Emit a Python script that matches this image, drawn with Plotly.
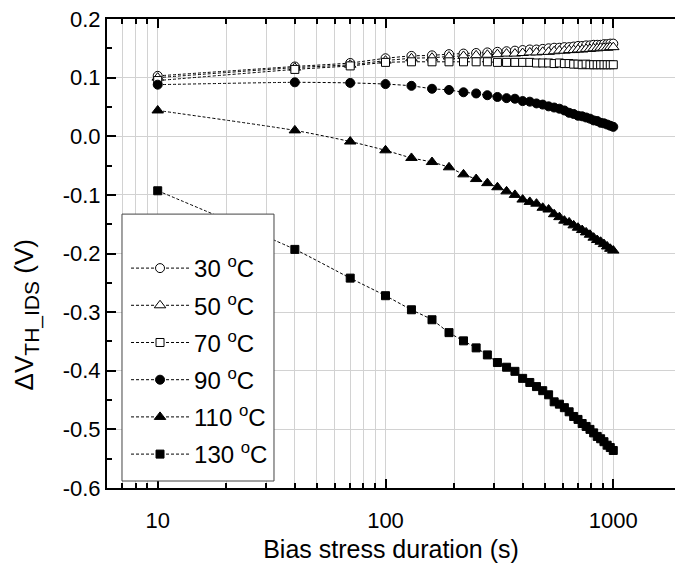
import plotly.graph_objects as go

# Bias stress time (s)
times = [10, 40, 70, 100, 130, 160, 190, 220, 250, 280, 310, 340, 370, 400, 430, 460, 490,
         520, 550, 580, 610, 640, 670, 700, 730, 760, 790, 820, 850, 880, 910, 940, 970, 1000]

# Threshold voltage shift (V) at each stress temperature
dv_30 = [0.103, 0.119, 0.125, 0.133, 0.137, 0.138, 0.140, 0.141, 0.142, 0.143, 0.144, 0.145,
         0.146, 0.147, 0.148, 0.148, 0.149, 0.150, 0.151, 0.151, 0.152, 0.152, 0.153, 0.154,
         0.154, 0.155, 0.155, 0.156, 0.156, 0.156, 0.157, 0.157, 0.158, 0.158]
dv_50 = [0.100, 0.117, 0.122, 0.129, 0.133, 0.134, 0.136, 0.137, 0.138, 0.139, 0.140, 0.141,
         0.141, 0.142, 0.143, 0.143, 0.144, 0.144, 0.145, 0.146, 0.146, 0.147, 0.147, 0.148,
         0.148, 0.149, 0.149, 0.150, 0.150, 0.151, 0.151, 0.151, 0.152, 0.152]
dv_70 = [0.095, 0.114, 0.120, 0.126, 0.127, 0.127, 0.127, 0.127, 0.127, 0.127, 0.126, 0.126,
         0.126, 0.126, 0.126, 0.125, 0.125, 0.125, 0.124, 0.125, 0.124, 0.124, 0.123, 0.123,
         0.122, 0.123, 0.122, 0.122, 0.122, 0.122, 0.122, 0.122, 0.122, 0.122]
dv_90 = [0.088, 0.092, 0.091, 0.089, 0.086, 0.081, 0.079, 0.075, 0.073, 0.070, 0.067, 0.065,
         0.064, 0.060, 0.059, 0.056, 0.054, 0.051, 0.049, 0.047, 0.044, 0.040, 0.038, 0.035,
         0.034, 0.032, 0.030, 0.027, 0.026, 0.023, 0.022, 0.020, 0.018, 0.016]
dv_110 = [0.044, 0.010, -0.009, -0.024, -0.037, -0.044, -0.053, -0.065, -0.073, -0.080, -0.087,
          -0.094, -0.100, -0.108, -0.112, -0.115, -0.122, -0.125, -0.133, -0.138, -0.144, -0.147,
          -0.152, -0.156, -0.160, -0.164, -0.168, -0.173, -0.177, -0.180, -0.184, -0.188, -0.192,
          -0.195]
dv_130 = [-0.093, -0.193, -0.242, -0.272, -0.296, -0.313, -0.335, -0.349, -0.361, -0.373, -0.386,
          -0.394, -0.401, -0.413, -0.420, -0.427, -0.434, -0.441, -0.453, -0.457, -0.463, -0.470,
          -0.478, -0.483, -0.490, -0.495, -0.500, -0.506, -0.512, -0.516, -0.521, -0.527, -0.531,
          -0.536]

series_names = ["30 <sup>o</sup>C", "50 <sup>o</sup>C", "70 <sup>o</sup>C",
                "90 <sup>o</sup>C", "110 <sup>o</sup>C", "130 <sup>o</sup>C"]

# Axis ticks
x_major = [10, 100, 1000]
x_major_text = ["10", "100", "1000"]
x_minor = [6, 7, 8, 9, 20, 30, 40, 50, 60, 70, 80, 90, 200, 300, 400, 500, 600, 700, 800, 900]
y_major = [-0.6, -0.5, -0.4, -0.3, -0.2, -0.1, 0.0, 0.1, 0.2]
y_major_text = ["-0.6", "-0.5", "-0.4", "-0.3", "-0.2", "-0.1", "0.0", "0.1", "0.2"]
y_minor = [-0.55, -0.45, -0.35, -0.25, -0.15, -0.05, 0.05, 0.15]

FONT = "Arial, Liberation Sans, sans-serif"
GRID = "#d2d2d2"

styles = [
    dict(symbol="circle", size=9, color="white"),
    dict(symbol="triangle-up", size=10, color="white"),
    dict(symbol="square", size=8, color="white"),
    dict(symbol="circle", size=9, color="black"),
    dict(symbol="triangle-up", size=10, color="black"),
    dict(symbol="square", size=8, color="black"),
]

fig = go.Figure()
for i, (name, vals, st) in enumerate(zip(series_names,
                                         [dv_30, dv_50, dv_70, dv_90, dv_110, dv_130], styles)):
    fig.add_trace(go.Scatter(
        x=times, y=vals, name=name, mode="lines+markers", legendgroup=f"g{i}",
        line=dict(color="black", width=1, dash="3px,2px", shape="spline", smoothing=0.6),
        marker=dict(symbol=st["symbol"], size=st["size"], color=st["color"],
                    line=dict(color="black", width=1)),
    ))

fig.update_layout(
    width=675, height=571,
    margin=dict(l=107, r=0, t=19, b=83),
    paper_bgcolor="white", plot_bgcolor="white",
    font=dict(family=FONT, size=22, color="black"),
    showlegend=True,
    legend=dict(
        x=0.0335, y=0.516, xanchor="left", yanchor="top",
        bgcolor="rgba(0,0,0,0)", borderwidth=0,
        font=dict(family=FONT, size=24, color="black"),
        itemwidth=58, tracegroupgap=3,
    ),
    # legend frame
    shapes=[dict(
        type="rect", xref="paper", yref="paper", layer="above",
        x0=0.0264, x1=0.294, y0=0.0149, y1=0.584,
        fillcolor="white", line=dict(color="#444444", width=1),
    )],
    xaxis=dict(
        type="log", range=[0.7774, 3.2709],
        tickmode="array", tickvals=x_major, ticktext=x_major_text,
        ticks="inside", ticklen=9, tickwidth=2, tickcolor="black",
        showline=True, linecolor="black", linewidth=2, mirror="ticks",
        showgrid=True, gridcolor=GRID, gridwidth=1,
        zeroline=False, ticklabelstandoff=12,
        minor=dict(tickmode="array", tickvals=x_minor, ticks="inside", ticklen=5,
                   tickwidth=1.5, tickcolor="black", showgrid=True, gridcolor=GRID, gridwidth=1),
        title=dict(text="Bias stress duration (s)", font=dict(size=25), standoff=8),
        tickfont=dict(size=22),
    ),
    yaxis=dict(
        range=[-0.6, 0.2],
        tickmode="array", tickvals=y_major, ticktext=y_major_text,
        ticks="inside", ticklen=9, tickwidth=2, tickcolor="black",
        showline=True, linecolor="black", linewidth=2, mirror=False,
        showgrid=True, gridcolor=GRID, gridwidth=1,
        zeroline=False,
        minor=dict(tickmode="array", tickvals=y_minor, ticks="inside", ticklen=5,
                   tickwidth=1.5, tickcolor="black", showgrid=False),
        tickfont=dict(size=22),
    ),
    annotations=[dict(
        text="ΔV<sub><span style='font-size:21px'>TH_IDS</span></sub> (V)",
        xref="paper", yref="paper",
        x=-0.141, y=0.37, xanchor="center", yanchor="middle",
        textangle=-90, showarrow=False, font=dict(family=FONT, size=26, color="black"),
    )],
)

fig.write_html("out.html")
